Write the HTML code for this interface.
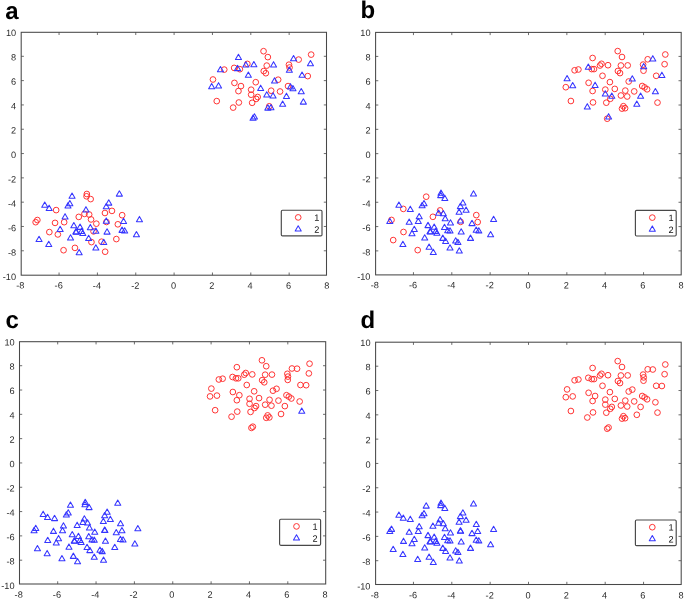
<!DOCTYPE html><html><head><meta charset="utf-8"><title>fig</title><style>html,body{margin:0;padding:0;background:#fff}svg{display:block;will-change:transform}text{font-family:"Liberation Sans",sans-serif;text-rendering:geometricPrecision}.m{fill:none;stroke-linejoin:round}.m circle{stroke:#ff2a2a;stroke-width:.95}.m path{stroke:#3636ff;stroke-width:1.05}</style></head><body>
<svg width="685" height="600" viewBox="0 0 685 600">
<rect width="685" height="600" fill="#fff"/>
<g id="pa">
<text x="5.2" y="18.5" font-size="24" font-weight="bold" fill="#000">a</text>
<rect x="21.2" y="32.3" width="305.30" height="242.90" fill="none" stroke="#484848" stroke-width="1.05"/>
<path d="M59.05 275.2v-2.7M59.05 32.3v2.7M97.40 275.2v-2.7M97.40 32.3v2.7M135.75 275.2v-2.7M135.75 32.3v2.7M174.10 275.2v-2.7M174.10 32.3v2.7M212.45 275.2v-2.7M212.45 32.3v2.7M250.80 275.2v-2.7M250.80 32.3v2.7M289.15 275.2v-2.7M289.15 32.3v2.7M21.2 56.31h2.7M326.5 56.31h-2.7M21.2 80.62h2.7M326.5 80.62h-2.7M21.2 104.93h2.7M326.5 104.93h-2.7M21.2 129.24h2.7M326.5 129.24h-2.7M21.2 153.55h2.7M326.5 153.55h-2.7M21.2 177.86h2.7M326.5 177.86h-2.7M21.2 202.17h2.7M326.5 202.17h-2.7M21.2 226.48h2.7M326.5 226.48h-2.7M21.2 250.79h2.7M326.5 250.79h-2.7" stroke="#484848" stroke-width="0.8" fill="none"/>
<g font-size="9.2" fill="#2b2b2b" transform="rotate(0.03 21.2 32.3)">
<text x="20.50" y="288.60" text-anchor="middle">-8</text>
<text x="58.80" y="288.60" text-anchor="middle">-6</text>
<text x="97.10" y="288.60" text-anchor="middle">-4</text>
<text x="135.40" y="288.60" text-anchor="middle">-2</text>
<text x="173.70" y="288.60" text-anchor="middle">0</text>
<text x="212.00" y="288.60" text-anchor="middle">2</text>
<text x="250.30" y="288.60" text-anchor="middle">4</text>
<text x="288.60" y="288.60" text-anchor="middle">6</text>
<text x="326.90" y="288.60" text-anchor="middle">8</text>
<text x="16.20" y="36.00" text-anchor="end">10</text>
<text x="16.20" y="60.41" text-anchor="end">8</text>
<text x="16.20" y="84.82" text-anchor="end">6</text>
<text x="16.20" y="109.23" text-anchor="end">4</text>
<text x="16.20" y="133.64" text-anchor="end">2</text>
<text x="16.20" y="158.05" text-anchor="end">0</text>
<text x="16.20" y="182.46" text-anchor="end">-2</text>
<text x="16.20" y="206.87" text-anchor="end">-4</text>
<text x="16.20" y="231.28" text-anchor="end">-6</text>
<text x="16.20" y="255.69" text-anchor="end">-8</text>
<text x="16.20" y="280.10" text-anchor="end">-10</text>
</g>
<g class="m">
<circle cx="263.55" cy="51.20" r="2.85"/>
<circle cx="267.85" cy="57.10" r="2.85"/>
<circle cx="311.15" cy="54.60" r="2.85"/>
<circle cx="298.65" cy="59.60" r="2.85"/>
<circle cx="247.35" cy="63.90" r="2.85"/>
<circle cx="266.75" cy="65.60" r="2.85"/>
<circle cx="288.95" cy="64.70" r="2.85"/>
<circle cx="289.55" cy="67.50" r="2.85"/>
<circle cx="234.15" cy="67.90" r="2.85"/>
<circle cx="239.85" cy="69.20" r="2.85"/>
<circle cx="224.25" cy="69.60" r="2.85"/>
<circle cx="263.75" cy="71.10" r="2.85"/>
<circle cx="265.85" cy="73.20" r="2.85"/>
<circle cx="307.75" cy="76.10" r="2.85"/>
<circle cx="212.95" cy="79.50" r="2.85"/>
<circle cx="278.15" cy="79.70" r="2.85"/>
<circle cx="255.75" cy="82.20" r="2.85"/>
<circle cx="234.45" cy="82.90" r="2.85"/>
<circle cx="240.95" cy="86.10" r="2.85"/>
<circle cx="288.05" cy="86.10" r="2.85"/>
<circle cx="251.15" cy="89.70" r="2.85"/>
<circle cx="271.15" cy="90.70" r="2.85"/>
<circle cx="280.05" cy="91.50" r="2.85"/>
<circle cx="238.45" cy="91.10" r="2.85"/>
<circle cx="251.15" cy="94.70" r="2.85"/>
<circle cx="257.65" cy="97.00" r="2.85"/>
<circle cx="256.15" cy="98.90" r="2.85"/>
<circle cx="216.75" cy="101.10" r="2.85"/>
<circle cx="238.85" cy="102.50" r="2.85"/>
<circle cx="252.15" cy="102.80" r="2.85"/>
<circle cx="233.15" cy="107.60" r="2.85"/>
<circle cx="269.25" cy="106.30" r="2.85"/>
<circle cx="86.85" cy="194.00" r="2.85"/>
<circle cx="86.55" cy="196.30" r="2.85"/>
<circle cx="90.65" cy="199.10" r="2.85"/>
<circle cx="56.15" cy="210.10" r="2.85"/>
<circle cx="111.95" cy="210.90" r="2.85"/>
<circle cx="104.95" cy="213.00" r="2.85"/>
<circle cx="84.45" cy="213.90" r="2.85"/>
<circle cx="89.15" cy="214.50" r="2.85"/>
<circle cx="122.15" cy="215.20" r="2.85"/>
<circle cx="78.75" cy="216.91" r="2.85"/>
<circle cx="37.35" cy="220.05" r="2.85"/>
<circle cx="35.65" cy="222.18" r="2.85"/>
<circle cx="55.05" cy="222.89" r="2.85"/>
<circle cx="64.15" cy="222.18" r="2.85"/>
<circle cx="91.05" cy="219.44" r="2.85"/>
<circle cx="96.35" cy="223.69" r="2.85"/>
<circle cx="106.45" cy="221.97" r="2.85"/>
<circle cx="117.85" cy="224.30" r="2.85"/>
<circle cx="49.35" cy="232.09" r="2.85"/>
<circle cx="57.85" cy="234.42" r="2.85"/>
<circle cx="93.55" cy="231.39" r="2.85"/>
<circle cx="91.45" cy="242.11" r="2.85"/>
<circle cx="101.55" cy="241.71" r="2.85"/>
<circle cx="116.35" cy="239.08" r="2.85"/>
<circle cx="74.95" cy="247.88" r="2.85"/>
<circle cx="63.55" cy="250.21" r="2.85"/>
<circle cx="105.15" cy="251.73" r="2.85"/>
<path d="M238.45 54.25L235.42 59.50L241.48 59.50Z"/>
<path d="M293.55 55.55L290.52 60.80L296.58 60.80Z"/>
<path d="M310.45 60.45L307.42 65.70L313.48 65.70Z"/>
<path d="M245.85 61.75L242.82 67.00L248.88 67.00Z"/>
<path d="M253.85 61.45L250.82 66.70L256.88 66.70Z"/>
<path d="M273.55 61.65L270.52 66.90L276.58 66.90Z"/>
<path d="M289.35 66.95L286.32 72.20L292.38 72.20Z"/>
<path d="M237.55 65.35L234.52 70.60L240.58 70.60Z"/>
<path d="M220.45 66.55L217.42 71.80L223.48 71.80Z"/>
<path d="M248.35 72.05L245.32 77.30L251.38 77.30Z"/>
<path d="M302.05 72.05L299.02 77.30L305.08 77.30Z"/>
<path d="M274.55 77.75L271.52 83.00L277.58 83.00Z"/>
<path d="M211.65 83.45L208.62 88.70L214.68 88.70Z"/>
<path d="M218.55 82.65L215.52 87.90L221.58 87.90Z"/>
<path d="M290.45 83.65L287.42 88.90L293.48 88.90Z"/>
<path d="M292.95 85.55L289.92 90.80L295.98 90.80Z"/>
<path d="M260.65 85.15L257.62 90.40L263.68 90.40Z"/>
<path d="M301.25 88.55L298.22 93.80L304.28 93.80Z"/>
<path d="M266.75 91.75L263.72 97.00L269.78 97.00Z"/>
<path d="M273.05 92.75L270.02 98.00L276.08 98.00Z"/>
<path d="M286.45 93.15L283.42 98.40L289.48 98.40Z"/>
<path d="M303.35 98.85L300.32 104.10L306.38 104.10Z"/>
<path d="M282.65 101.05L279.62 106.30L285.68 106.30Z"/>
<path d="M267.85 104.85L264.82 110.10L270.88 110.10Z"/>
<path d="M270.95 104.45L267.92 109.70L273.98 109.70Z"/>
<path d="M254.45 113.75L251.42 119.00L257.48 119.00Z"/>
<path d="M253.05 114.95L250.02 120.20L256.08 120.20Z"/>
<path d="M72.05 192.95L69.02 198.20L75.08 198.20Z"/>
<path d="M119.35 190.85L116.32 196.10L122.38 196.10Z"/>
<path d="M44.75 202.05L41.72 207.30L47.78 207.30Z"/>
<path d="M49.15 205.15L46.12 210.40L52.18 210.40Z"/>
<path d="M69.85 200.55L66.82 205.80L72.88 205.80Z"/>
<path d="M67.95 202.65L64.92 207.90L70.98 207.90Z"/>
<path d="M108.75 199.85L105.72 205.10L111.78 205.10Z"/>
<path d="M106.25 203.45L103.22 208.70L109.28 208.70Z"/>
<path d="M85.95 206.65L82.92 211.90L88.98 211.90Z"/>
<path d="M65.05 213.67L62.02 218.92L68.08 218.92Z"/>
<path d="M106.25 217.92L103.22 223.17L109.28 223.17Z"/>
<path d="M123.55 218.33L120.52 223.58L126.58 223.58Z"/>
<path d="M139.45 216.40L136.42 221.65L142.48 221.65Z"/>
<path d="M73.85 222.48L70.82 227.73L76.88 227.73Z"/>
<path d="M80.05 224.10L77.02 229.35L83.08 229.35Z"/>
<path d="M90.35 224.40L87.32 229.65L93.38 229.65Z"/>
<path d="M60.15 226.32L57.12 231.57L63.18 231.57Z"/>
<path d="M75.85 228.65L72.82 233.90L78.88 233.90Z"/>
<path d="M81.55 228.24L78.52 233.49L84.58 233.49Z"/>
<path d="M82.75 230.17L79.72 235.42L85.78 235.42Z"/>
<path d="M95.85 227.94L92.82 233.19L98.88 233.19Z"/>
<path d="M107.05 228.85L104.02 234.10L110.08 234.10Z"/>
<path d="M122.05 227.13L119.02 232.38L125.08 232.38Z"/>
<path d="M124.65 227.74L121.62 232.99L127.68 232.99Z"/>
<path d="M136.45 231.58L133.42 236.83L139.48 236.83Z"/>
<path d="M39.05 236.34L36.02 241.59L42.08 241.59Z"/>
<path d="M70.55 234.82L67.52 240.07L73.58 240.07Z"/>
<path d="M88.65 235.23L85.62 240.48L91.68 240.48Z"/>
<path d="M103.75 239.28L100.72 244.53L106.78 244.53Z"/>
<path d="M48.75 241.30L45.72 246.55L51.78 246.55Z"/>
<path d="M95.85 244.84L92.82 250.09L98.88 250.09Z"/>
<path d="M79.15 249.40L76.12 254.65L82.18 254.65Z"/>
<path d="M76.25 228.85L73.22 234.10L79.28 234.10Z"/>
</g>
<rect x="281.3" y="210.2" width="40.70" height="25.70" rx="1.2" fill="#fff" stroke="#484848" stroke-width="1.15"/>
<g class="m"><circle cx="298.20" cy="217.40" r="2.85"/><path d="M298.20 225.70L295.17 230.95L301.23 230.95Z"/></g>
<g font-size="9.2" fill="#111" transform="rotate(0.03 281.3 210.2)"><text x="314.30" y="220.80">1</text><text x="314.30" y="232.80">2</text></g>
</g>
<g id="pb">
<text x="360.6" y="18.1" font-size="24" font-weight="bold" fill="#000">b</text>
<rect x="375.6" y="32.4" width="305.60" height="242.50" fill="none" stroke="#484848" stroke-width="1.05"/>
<path d="M413.45 274.9v-2.7M413.45 32.4v2.7M451.80 274.9v-2.7M451.80 32.4v2.7M490.15 274.9v-2.7M490.15 32.4v2.7M528.50 274.9v-2.7M528.50 32.4v2.7M566.85 274.9v-2.7M566.85 32.4v2.7M605.20 274.9v-2.7M605.20 32.4v2.7M643.55 274.9v-2.7M643.55 32.4v2.7M375.6 56.41h2.7M681.2 56.41h-2.7M375.6 80.72h2.7M681.2 80.72h-2.7M375.6 105.03h2.7M681.2 105.03h-2.7M375.6 129.34h2.7M681.2 129.34h-2.7M375.6 153.65h2.7M681.2 153.65h-2.7M375.6 177.96h2.7M681.2 177.96h-2.7M375.6 202.27h2.7M681.2 202.27h-2.7M375.6 226.58h2.7M681.2 226.58h-2.7M375.6 250.89h2.7M681.2 250.89h-2.7" stroke="#484848" stroke-width="0.8" fill="none"/>
<g font-size="9.2" fill="#2b2b2b" transform="rotate(0.03 375.6 32.4)">
<text x="374.90" y="288.30" text-anchor="middle">-8</text>
<text x="413.20" y="288.30" text-anchor="middle">-6</text>
<text x="451.50" y="288.30" text-anchor="middle">-4</text>
<text x="489.80" y="288.30" text-anchor="middle">-2</text>
<text x="528.10" y="288.30" text-anchor="middle">0</text>
<text x="566.40" y="288.30" text-anchor="middle">2</text>
<text x="604.70" y="288.30" text-anchor="middle">4</text>
<text x="643.00" y="288.30" text-anchor="middle">6</text>
<text x="681.30" y="288.30" text-anchor="middle">8</text>
<text x="370.60" y="36.10" text-anchor="end">10</text>
<text x="370.60" y="60.47" text-anchor="end">8</text>
<text x="370.60" y="84.84" text-anchor="end">6</text>
<text x="370.60" y="109.21" text-anchor="end">4</text>
<text x="370.60" y="133.58" text-anchor="end">2</text>
<text x="370.60" y="157.95" text-anchor="end">0</text>
<text x="370.60" y="182.32" text-anchor="end">-2</text>
<text x="370.60" y="206.69" text-anchor="end">-4</text>
<text x="370.60" y="231.06" text-anchor="end">-6</text>
<text x="370.60" y="255.43" text-anchor="end">-8</text>
<text x="370.60" y="279.80" text-anchor="end">-10</text>
</g>
<g class="m">
<circle cx="617.70" cy="51.10" r="2.85"/>
<circle cx="622.00" cy="57.00" r="2.85"/>
<circle cx="665.30" cy="54.50" r="2.85"/>
<circle cx="592.60" cy="58.00" r="2.85"/>
<circle cx="647.70" cy="59.30" r="2.85"/>
<circle cx="664.60" cy="64.20" r="2.85"/>
<circle cx="601.50" cy="63.80" r="2.85"/>
<circle cx="600.00" cy="65.50" r="2.85"/>
<circle cx="608.00" cy="65.20" r="2.85"/>
<circle cx="620.90" cy="65.50" r="2.85"/>
<circle cx="627.70" cy="65.40" r="2.85"/>
<circle cx="643.10" cy="64.60" r="2.85"/>
<circle cx="643.50" cy="70.70" r="2.85"/>
<circle cx="591.70" cy="69.10" r="2.85"/>
<circle cx="594.00" cy="69.10" r="2.85"/>
<circle cx="574.60" cy="70.30" r="2.85"/>
<circle cx="578.40" cy="69.50" r="2.85"/>
<circle cx="617.90" cy="71.00" r="2.85"/>
<circle cx="620.00" cy="73.10" r="2.85"/>
<circle cx="602.50" cy="75.80" r="2.85"/>
<circle cx="656.20" cy="75.80" r="2.85"/>
<circle cx="628.70" cy="81.50" r="2.85"/>
<circle cx="609.90" cy="82.10" r="2.85"/>
<circle cx="588.60" cy="82.80" r="2.85"/>
<circle cx="565.80" cy="87.20" r="2.85"/>
<circle cx="642.20" cy="86.00" r="2.85"/>
<circle cx="644.60" cy="87.40" r="2.85"/>
<circle cx="647.10" cy="89.30" r="2.85"/>
<circle cx="614.80" cy="88.90" r="2.85"/>
<circle cx="605.30" cy="89.60" r="2.85"/>
<circle cx="625.30" cy="90.60" r="2.85"/>
<circle cx="634.20" cy="91.40" r="2.85"/>
<circle cx="592.60" cy="91.00" r="2.85"/>
<circle cx="620.90" cy="95.50" r="2.85"/>
<circle cx="627.20" cy="96.50" r="2.85"/>
<circle cx="610.30" cy="98.80" r="2.85"/>
<circle cx="570.90" cy="101.00" r="2.85"/>
<circle cx="593.00" cy="102.40" r="2.85"/>
<circle cx="606.30" cy="102.70" r="2.85"/>
<circle cx="657.50" cy="102.60" r="2.85"/>
<circle cx="623.40" cy="106.20" r="2.85"/>
<circle cx="622.00" cy="108.60" r="2.85"/>
<circle cx="625.10" cy="108.20" r="2.85"/>
<circle cx="607.20" cy="118.70" r="2.85"/>
<circle cx="426.20" cy="196.70" r="2.85"/>
<circle cx="403.30" cy="208.90" r="2.85"/>
<circle cx="440.10" cy="210.40" r="2.85"/>
<circle cx="476.30" cy="215.10" r="2.85"/>
<circle cx="432.90" cy="216.81" r="2.85"/>
<circle cx="391.50" cy="219.95" r="2.85"/>
<circle cx="460.60" cy="221.87" r="2.85"/>
<circle cx="477.70" cy="222.08" r="2.85"/>
<circle cx="403.50" cy="231.99" r="2.85"/>
<circle cx="393.20" cy="240.09" r="2.85"/>
<circle cx="417.70" cy="250.11" r="2.85"/>
<path d="M652.80 55.65L649.77 60.90L655.83 60.90Z"/>
<path d="M643.70 63.55L640.67 68.80L646.73 68.80Z"/>
<path d="M588.30 63.95L585.27 69.20L591.33 69.20Z"/>
<path d="M661.90 72.15L658.87 77.40L664.93 77.40Z"/>
<path d="M567.10 75.55L564.07 80.80L570.13 80.80Z"/>
<path d="M632.30 75.75L629.27 81.00L635.33 81.00Z"/>
<path d="M595.10 82.15L592.07 87.40L598.13 87.40Z"/>
<path d="M572.70 82.55L569.67 87.80L575.73 87.80Z"/>
<path d="M655.40 88.45L652.37 93.70L658.43 93.70Z"/>
<path d="M605.30 90.75L602.27 96.00L608.33 96.00Z"/>
<path d="M640.60 93.05L637.57 98.30L643.63 98.30Z"/>
<path d="M611.80 93.05L608.77 98.30L614.83 98.30Z"/>
<path d="M636.80 100.95L633.77 106.20L639.83 106.20Z"/>
<path d="M587.30 103.65L584.27 108.90L590.33 108.90Z"/>
<path d="M608.60 113.65L605.57 118.90L611.63 118.90Z"/>
<path d="M441.00 190.05L437.97 195.30L444.03 195.30Z"/>
<path d="M440.70 192.35L437.67 197.60L443.73 197.60Z"/>
<path d="M444.80 195.15L441.77 200.40L447.83 200.40Z"/>
<path d="M473.50 190.75L470.47 196.00L476.53 196.00Z"/>
<path d="M398.90 201.95L395.87 207.20L401.93 207.20Z"/>
<path d="M410.30 206.15L407.27 211.40L413.33 211.40Z"/>
<path d="M424.00 200.45L420.97 205.70L427.03 205.70Z"/>
<path d="M422.10 202.55L419.07 207.80L425.13 207.80Z"/>
<path d="M462.90 199.75L459.87 205.00L465.93 205.00Z"/>
<path d="M460.40 203.35L457.37 208.60L463.43 208.60Z"/>
<path d="M466.10 206.95L463.07 212.20L469.13 212.20Z"/>
<path d="M459.10 209.05L456.07 214.30L462.13 214.30Z"/>
<path d="M438.60 209.95L435.57 215.20L441.63 215.20Z"/>
<path d="M443.30 210.55L440.27 215.80L446.33 215.80Z"/>
<path d="M419.20 213.57L416.17 218.82L422.23 218.82Z"/>
<path d="M389.80 218.23L386.77 223.48L392.83 223.48Z"/>
<path d="M409.20 218.94L406.17 224.19L412.23 224.19Z"/>
<path d="M418.30 218.23L415.27 223.48L421.33 223.48Z"/>
<path d="M445.20 215.49L442.17 220.74L448.23 220.74Z"/>
<path d="M450.50 219.74L447.47 224.99L453.53 224.99Z"/>
<path d="M460.40 217.82L457.37 223.07L463.43 223.07Z"/>
<path d="M472.00 220.35L468.97 225.60L475.03 225.60Z"/>
<path d="M493.60 216.30L490.57 221.55L496.63 221.55Z"/>
<path d="M428.00 222.38L424.97 227.63L431.03 227.63Z"/>
<path d="M434.20 224.00L431.17 229.25L437.23 229.25Z"/>
<path d="M444.50 224.30L441.47 229.55L447.53 229.55Z"/>
<path d="M414.30 226.22L411.27 231.47L417.33 231.47Z"/>
<path d="M412.00 230.47L408.97 235.72L415.03 235.72Z"/>
<path d="M430.00 228.55L426.97 233.80L433.03 233.80Z"/>
<path d="M435.70 228.14L432.67 233.39L438.73 233.39Z"/>
<path d="M436.90 230.07L433.87 235.32L439.93 235.32Z"/>
<path d="M447.70 227.44L444.67 232.69L450.73 232.69Z"/>
<path d="M450.00 227.84L446.97 233.09L453.03 233.09Z"/>
<path d="M461.20 228.75L458.17 234.00L464.23 234.00Z"/>
<path d="M476.20 227.03L473.17 232.28L479.23 232.28Z"/>
<path d="M478.80 227.64L475.77 232.89L481.83 232.89Z"/>
<path d="M490.60 231.48L487.57 236.73L493.63 236.73Z"/>
<path d="M424.70 234.72L421.67 239.97L427.73 239.97Z"/>
<path d="M442.80 235.13L439.77 240.38L445.83 240.38Z"/>
<path d="M445.60 238.16L442.57 243.41L448.63 243.41Z"/>
<path d="M455.70 237.76L452.67 243.01L458.73 243.01Z"/>
<path d="M457.90 239.18L454.87 244.43L460.93 244.43Z"/>
<path d="M470.50 235.13L467.47 240.38L473.53 240.38Z"/>
<path d="M402.90 241.20L399.87 246.45L405.93 246.45Z"/>
<path d="M429.10 243.93L426.07 249.18L432.13 249.18Z"/>
<path d="M450.00 244.74L446.97 249.99L453.03 249.99Z"/>
<path d="M433.30 249.30L430.27 254.55L436.33 254.55Z"/>
<path d="M459.30 247.78L456.27 253.03L462.33 253.03Z"/>
<path d="M430.40 228.75L427.37 234.00L433.43 234.00Z"/>
</g>
<rect x="635.4" y="210.4" width="40.80" height="25.60" rx="1.2" fill="#fff" stroke="#484848" stroke-width="1.15"/>
<g class="m"><circle cx="652.30" cy="217.60" r="2.85"/><path d="M652.30 225.90L649.27 231.15L655.33 231.15Z"/></g>
<g font-size="9.2" fill="#111" transform="rotate(0.03 635.4 210.4)"><text x="668.40" y="221.00">1</text><text x="668.40" y="233.00">2</text></g>
</g>
<g id="pc">
<text x="5.4" y="328.3" font-size="24" font-weight="bold" fill="#000">c</text>
<rect x="19.5" y="341.7" width="306.20" height="242.30" fill="none" stroke="#484848" stroke-width="1.05"/>
<path d="M57.70 584.0v-2.7M57.70 341.7v2.7M96.05 584.0v-2.7M96.05 341.7v2.7M134.40 584.0v-2.7M134.40 341.7v2.7M172.75 584.0v-2.7M172.75 341.7v2.7M211.10 584.0v-2.7M211.10 341.7v2.7M249.45 584.0v-2.7M249.45 341.7v2.7M287.80 584.0v-2.7M287.80 341.7v2.7M19.5 365.71h2.7M325.7 365.71h-2.7M19.5 390.02h2.7M325.7 390.02h-2.7M19.5 414.33h2.7M325.7 414.33h-2.7M19.5 438.64h2.7M325.7 438.64h-2.7M19.5 462.95h2.7M325.7 462.95h-2.7M19.5 487.26h2.7M325.7 487.26h-2.7M19.5 511.57h2.7M325.7 511.57h-2.7M19.5 535.88h2.7M325.7 535.88h-2.7M19.5 560.19h2.7M325.7 560.19h-2.7" stroke="#484848" stroke-width="0.8" fill="none"/>
<g font-size="9.2" fill="#2b2b2b" transform="rotate(0.03 19.5 341.7)">
<text x="18.80" y="597.70" text-anchor="middle">-8</text>
<text x="57.10" y="597.70" text-anchor="middle">-6</text>
<text x="95.40" y="597.70" text-anchor="middle">-4</text>
<text x="133.70" y="597.70" text-anchor="middle">-2</text>
<text x="172.00" y="597.70" text-anchor="middle">0</text>
<text x="210.30" y="597.70" text-anchor="middle">2</text>
<text x="248.60" y="597.70" text-anchor="middle">4</text>
<text x="286.90" y="597.70" text-anchor="middle">6</text>
<text x="325.20" y="597.70" text-anchor="middle">8</text>
<text x="14.70" y="345.40" text-anchor="end">10</text>
<text x="14.70" y="369.75" text-anchor="end">8</text>
<text x="14.70" y="394.10" text-anchor="end">6</text>
<text x="14.70" y="418.45" text-anchor="end">4</text>
<text x="14.70" y="442.80" text-anchor="end">2</text>
<text x="14.70" y="467.15" text-anchor="end">0</text>
<text x="14.70" y="491.50" text-anchor="end">-2</text>
<text x="14.70" y="515.85" text-anchor="end">-4</text>
<text x="14.70" y="540.20" text-anchor="end">-6</text>
<text x="14.70" y="564.55" text-anchor="end">-8</text>
<text x="14.70" y="588.90" text-anchor="end">-10</text>
</g>
<g class="m">
<circle cx="261.95" cy="360.30" r="2.85"/>
<circle cx="266.25" cy="366.20" r="2.85"/>
<circle cx="309.55" cy="363.70" r="2.85"/>
<circle cx="236.85" cy="367.20" r="2.85"/>
<circle cx="291.95" cy="368.50" r="2.85"/>
<circle cx="297.05" cy="368.70" r="2.85"/>
<circle cx="308.85" cy="373.40" r="2.85"/>
<circle cx="245.75" cy="373.00" r="2.85"/>
<circle cx="244.25" cy="374.70" r="2.85"/>
<circle cx="252.25" cy="374.40" r="2.85"/>
<circle cx="265.15" cy="374.70" r="2.85"/>
<circle cx="271.95" cy="374.60" r="2.85"/>
<circle cx="287.35" cy="373.80" r="2.85"/>
<circle cx="287.95" cy="376.60" r="2.85"/>
<circle cx="287.75" cy="379.90" r="2.85"/>
<circle cx="232.55" cy="377.00" r="2.85"/>
<circle cx="235.95" cy="378.30" r="2.85"/>
<circle cx="238.25" cy="378.30" r="2.85"/>
<circle cx="218.85" cy="379.50" r="2.85"/>
<circle cx="222.65" cy="378.70" r="2.85"/>
<circle cx="262.15" cy="380.20" r="2.85"/>
<circle cx="264.25" cy="382.30" r="2.85"/>
<circle cx="246.75" cy="385.00" r="2.85"/>
<circle cx="300.45" cy="385.00" r="2.85"/>
<circle cx="306.15" cy="385.20" r="2.85"/>
<circle cx="211.35" cy="388.60" r="2.85"/>
<circle cx="276.55" cy="388.80" r="2.85"/>
<circle cx="272.95" cy="390.70" r="2.85"/>
<circle cx="254.15" cy="391.30" r="2.85"/>
<circle cx="232.85" cy="392.00" r="2.85"/>
<circle cx="239.35" cy="395.20" r="2.85"/>
<circle cx="210.05" cy="396.40" r="2.85"/>
<circle cx="216.95" cy="395.60" r="2.85"/>
<circle cx="286.45" cy="395.20" r="2.85"/>
<circle cx="288.85" cy="396.60" r="2.85"/>
<circle cx="291.35" cy="398.50" r="2.85"/>
<circle cx="259.05" cy="398.10" r="2.85"/>
<circle cx="249.55" cy="398.80" r="2.85"/>
<circle cx="269.55" cy="399.80" r="2.85"/>
<circle cx="278.45" cy="400.60" r="2.85"/>
<circle cx="236.85" cy="400.20" r="2.85"/>
<circle cx="299.65" cy="401.50" r="2.85"/>
<circle cx="249.55" cy="403.80" r="2.85"/>
<circle cx="265.15" cy="404.70" r="2.85"/>
<circle cx="271.45" cy="405.70" r="2.85"/>
<circle cx="284.85" cy="406.10" r="2.85"/>
<circle cx="256.05" cy="406.10" r="2.85"/>
<circle cx="254.55" cy="408.00" r="2.85"/>
<circle cx="215.15" cy="410.20" r="2.85"/>
<circle cx="237.25" cy="411.60" r="2.85"/>
<circle cx="250.55" cy="411.90" r="2.85"/>
<circle cx="281.05" cy="414.00" r="2.85"/>
<circle cx="231.55" cy="416.70" r="2.85"/>
<circle cx="267.65" cy="415.40" r="2.85"/>
<circle cx="266.25" cy="417.80" r="2.85"/>
<circle cx="269.35" cy="417.40" r="2.85"/>
<circle cx="252.85" cy="426.70" r="2.85"/>
<circle cx="251.45" cy="427.90" r="2.85"/>
<path d="M301.75 407.95L298.72 413.20L304.78 413.20Z"/>
<path d="M70.45 502.05L67.42 507.30L73.48 507.30Z"/>
<path d="M85.25 499.25L82.22 504.50L88.28 504.50Z"/>
<path d="M84.95 501.55L81.92 506.80L87.98 506.80Z"/>
<path d="M89.05 504.35L86.02 509.60L92.08 509.60Z"/>
<path d="M117.75 499.95L114.72 505.20L120.78 505.20Z"/>
<path d="M43.15 511.15L40.12 516.40L46.18 516.40Z"/>
<path d="M47.55 514.25L44.52 519.50L50.58 519.50Z"/>
<path d="M54.55 515.35L51.52 520.60L57.58 520.60Z"/>
<path d="M68.25 509.65L65.22 514.90L71.28 514.90Z"/>
<path d="M66.35 511.75L63.32 517.00L69.38 517.00Z"/>
<path d="M107.15 508.95L104.12 514.20L110.18 514.20Z"/>
<path d="M104.65 512.55L101.62 517.80L107.68 517.80Z"/>
<path d="M110.35 516.15L107.32 521.40L113.38 521.40Z"/>
<path d="M103.35 518.25L100.32 523.50L106.38 523.50Z"/>
<path d="M84.35 515.75L81.32 521.00L87.38 521.00Z"/>
<path d="M82.85 519.15L79.82 524.40L85.88 524.40Z"/>
<path d="M87.55 519.75L84.52 525.00L90.58 525.00Z"/>
<path d="M120.55 520.45L117.52 525.70L123.58 525.70Z"/>
<path d="M77.15 522.16L74.12 527.41L80.18 527.41Z"/>
<path d="M63.45 522.77L60.42 528.02L66.48 528.02Z"/>
<path d="M35.75 525.30L32.72 530.55L38.78 530.55Z"/>
<path d="M34.05 527.43L31.02 532.68L37.08 532.68Z"/>
<path d="M53.45 528.14L50.42 533.39L56.48 533.39Z"/>
<path d="M62.55 527.43L59.52 532.68L65.58 532.68Z"/>
<path d="M89.45 524.69L86.42 529.94L92.48 529.94Z"/>
<path d="M94.75 528.94L91.72 534.19L97.78 534.19Z"/>
<path d="M104.65 527.02L101.62 532.27L107.68 532.27Z"/>
<path d="M104.85 527.22L101.82 532.47L107.88 532.47Z"/>
<path d="M121.95 527.43L118.92 532.68L124.98 532.68Z"/>
<path d="M116.25 529.55L113.22 534.80L119.28 534.80Z"/>
<path d="M137.85 525.50L134.82 530.75L140.88 530.75Z"/>
<path d="M72.25 531.58L69.22 536.83L75.28 536.83Z"/>
<path d="M78.45 533.20L75.42 538.45L81.48 538.45Z"/>
<path d="M88.75 533.50L85.72 538.75L91.78 538.75Z"/>
<path d="M58.55 535.42L55.52 540.67L61.58 540.67Z"/>
<path d="M47.75 537.34L44.72 542.59L50.78 542.59Z"/>
<path d="M56.25 539.67L53.22 544.92L59.28 544.92Z"/>
<path d="M74.25 537.75L71.22 543.00L77.28 543.00Z"/>
<path d="M79.95 537.34L76.92 542.59L82.98 542.59Z"/>
<path d="M81.15 539.27L78.12 544.52L84.18 544.52Z"/>
<path d="M91.95 536.64L88.92 541.89L94.98 541.89Z"/>
<path d="M94.25 537.04L91.22 542.29L97.28 542.29Z"/>
<path d="M105.45 537.95L102.42 543.20L108.48 543.20Z"/>
<path d="M120.45 536.23L117.42 541.48L123.48 541.48Z"/>
<path d="M123.05 536.84L120.02 542.09L126.08 542.09Z"/>
<path d="M134.85 540.68L131.82 545.93L137.88 545.93Z"/>
<path d="M37.45 545.44L34.42 550.69L40.48 550.69Z"/>
<path d="M68.95 543.92L65.92 549.17L71.98 549.17Z"/>
<path d="M87.05 544.33L84.02 549.58L90.08 549.58Z"/>
<path d="M89.85 547.36L86.82 552.61L92.88 552.61Z"/>
<path d="M99.95 546.96L96.92 552.21L102.98 552.21Z"/>
<path d="M102.15 548.38L99.12 553.63L105.18 553.63Z"/>
<path d="M114.75 544.33L111.72 549.58L117.78 549.58Z"/>
<path d="M47.15 550.40L44.12 555.65L50.18 555.65Z"/>
<path d="M73.35 553.13L70.32 558.38L76.38 558.38Z"/>
<path d="M61.95 555.46L58.92 560.71L64.98 560.71Z"/>
<path d="M94.25 553.94L91.22 559.19L97.28 559.19Z"/>
<path d="M77.55 558.50L74.52 563.75L80.58 563.75Z"/>
<path d="M103.55 556.98L100.52 562.23L106.58 562.23Z"/>
<path d="M74.65 537.95L71.62 543.20L77.68 543.20Z"/>
</g>
<rect x="279.6" y="519.2" width="41.00" height="26.10" rx="1.2" fill="#fff" stroke="#484848" stroke-width="1.15"/>
<g class="m"><circle cx="296.50" cy="526.40" r="2.85"/><path d="M296.50 534.70L293.47 539.95L299.53 539.95Z"/></g>
<g font-size="9.2" fill="#111" transform="rotate(0.03 279.6 519.2)"><text x="312.60" y="529.80">1</text><text x="312.60" y="541.80">2</text></g>
</g>
<g id="pd">
<text x="360.6" y="328.0" font-size="24" font-weight="bold" fill="#000">d</text>
<rect x="375.6" y="342.2" width="305.60" height="242.30" fill="none" stroke="#484848" stroke-width="1.05"/>
<path d="M413.45 584.5v-2.7M413.45 342.2v2.7M451.80 584.5v-2.7M451.80 342.2v2.7M490.15 584.5v-2.7M490.15 342.2v2.7M528.50 584.5v-2.7M528.50 342.2v2.7M566.85 584.5v-2.7M566.85 342.2v2.7M605.20 584.5v-2.7M605.20 342.2v2.7M643.55 584.5v-2.7M643.55 342.2v2.7M375.6 366.21h2.7M681.2 366.21h-2.7M375.6 390.52h2.7M681.2 390.52h-2.7M375.6 414.83h2.7M681.2 414.83h-2.7M375.6 439.14h2.7M681.2 439.14h-2.7M375.6 463.45h2.7M681.2 463.45h-2.7M375.6 487.76h2.7M681.2 487.76h-2.7M375.6 512.07h2.7M681.2 512.07h-2.7M375.6 536.38h2.7M681.2 536.38h-2.7M375.6 560.69h2.7M681.2 560.69h-2.7" stroke="#484848" stroke-width="0.8" fill="none"/>
<g font-size="9.2" fill="#2b2b2b" transform="rotate(0.03 375.6 342.2)">
<text x="374.90" y="598.35" text-anchor="middle">-8</text>
<text x="413.20" y="598.35" text-anchor="middle">-6</text>
<text x="451.50" y="598.35" text-anchor="middle">-4</text>
<text x="489.80" y="598.35" text-anchor="middle">-2</text>
<text x="528.10" y="598.35" text-anchor="middle">0</text>
<text x="566.40" y="598.35" text-anchor="middle">2</text>
<text x="604.70" y="598.35" text-anchor="middle">4</text>
<text x="643.00" y="598.35" text-anchor="middle">6</text>
<text x="681.30" y="598.35" text-anchor="middle">8</text>
<text x="370.60" y="345.90" text-anchor="end">10</text>
<text x="370.60" y="370.25" text-anchor="end">8</text>
<text x="370.60" y="394.60" text-anchor="end">6</text>
<text x="370.60" y="418.95" text-anchor="end">4</text>
<text x="370.60" y="443.30" text-anchor="end">2</text>
<text x="370.60" y="467.65" text-anchor="end">0</text>
<text x="370.60" y="492.00" text-anchor="end">-2</text>
<text x="370.60" y="516.35" text-anchor="end">-4</text>
<text x="370.60" y="540.70" text-anchor="end">-6</text>
<text x="370.60" y="565.05" text-anchor="end">-8</text>
<text x="370.60" y="589.40" text-anchor="end">-10</text>
</g>
<g class="m">
<circle cx="617.70" cy="361.10" r="2.85"/>
<circle cx="622.00" cy="367.00" r="2.85"/>
<circle cx="665.30" cy="364.50" r="2.85"/>
<circle cx="592.60" cy="368.00" r="2.85"/>
<circle cx="647.70" cy="369.30" r="2.85"/>
<circle cx="652.80" cy="369.50" r="2.85"/>
<circle cx="664.60" cy="374.20" r="2.85"/>
<circle cx="601.50" cy="373.80" r="2.85"/>
<circle cx="600.00" cy="375.50" r="2.85"/>
<circle cx="608.00" cy="375.20" r="2.85"/>
<circle cx="620.90" cy="375.50" r="2.85"/>
<circle cx="627.70" cy="375.40" r="2.85"/>
<circle cx="643.10" cy="374.60" r="2.85"/>
<circle cx="643.70" cy="377.40" r="2.85"/>
<circle cx="643.50" cy="380.70" r="2.85"/>
<circle cx="588.30" cy="377.80" r="2.85"/>
<circle cx="591.70" cy="379.10" r="2.85"/>
<circle cx="594.00" cy="379.10" r="2.85"/>
<circle cx="574.60" cy="380.30" r="2.85"/>
<circle cx="578.40" cy="379.50" r="2.85"/>
<circle cx="617.90" cy="381.00" r="2.85"/>
<circle cx="620.00" cy="383.10" r="2.85"/>
<circle cx="602.50" cy="385.80" r="2.85"/>
<circle cx="656.20" cy="385.80" r="2.85"/>
<circle cx="661.90" cy="386.00" r="2.85"/>
<circle cx="567.10" cy="389.40" r="2.85"/>
<circle cx="632.30" cy="389.60" r="2.85"/>
<circle cx="628.70" cy="391.50" r="2.85"/>
<circle cx="609.90" cy="392.10" r="2.85"/>
<circle cx="588.60" cy="392.80" r="2.85"/>
<circle cx="595.10" cy="396.00" r="2.85"/>
<circle cx="565.80" cy="397.20" r="2.85"/>
<circle cx="572.70" cy="396.40" r="2.85"/>
<circle cx="642.20" cy="396.00" r="2.85"/>
<circle cx="644.60" cy="397.40" r="2.85"/>
<circle cx="647.10" cy="399.30" r="2.85"/>
<circle cx="614.80" cy="398.90" r="2.85"/>
<circle cx="605.30" cy="399.60" r="2.85"/>
<circle cx="625.30" cy="400.60" r="2.85"/>
<circle cx="634.20" cy="401.40" r="2.85"/>
<circle cx="592.60" cy="401.00" r="2.85"/>
<circle cx="655.40" cy="402.30" r="2.85"/>
<circle cx="605.30" cy="404.60" r="2.85"/>
<circle cx="620.90" cy="405.50" r="2.85"/>
<circle cx="627.20" cy="406.50" r="2.85"/>
<circle cx="640.60" cy="406.90" r="2.85"/>
<circle cx="611.80" cy="406.90" r="2.85"/>
<circle cx="610.30" cy="408.80" r="2.85"/>
<circle cx="570.90" cy="411.00" r="2.85"/>
<circle cx="593.00" cy="412.40" r="2.85"/>
<circle cx="606.30" cy="412.70" r="2.85"/>
<circle cx="657.50" cy="412.60" r="2.85"/>
<circle cx="636.80" cy="414.80" r="2.85"/>
<circle cx="587.30" cy="417.50" r="2.85"/>
<circle cx="623.40" cy="416.20" r="2.85"/>
<circle cx="622.00" cy="418.60" r="2.85"/>
<circle cx="625.10" cy="418.20" r="2.85"/>
<circle cx="608.60" cy="427.50" r="2.85"/>
<circle cx="607.20" cy="428.70" r="2.85"/>
<path d="M426.20 502.85L423.17 508.10L429.23 508.10Z"/>
<path d="M441.00 500.05L437.97 505.30L444.03 505.30Z"/>
<path d="M440.70 502.35L437.67 507.60L443.73 507.60Z"/>
<path d="M444.80 505.15L441.77 510.40L447.83 510.40Z"/>
<path d="M473.50 500.75L470.47 506.00L476.53 506.00Z"/>
<path d="M398.90 511.95L395.87 517.20L401.93 517.20Z"/>
<path d="M403.30 515.05L400.27 520.30L406.33 520.30Z"/>
<path d="M410.30 516.15L407.27 521.40L413.33 521.40Z"/>
<path d="M424.00 510.45L420.97 515.70L427.03 515.70Z"/>
<path d="M422.10 512.55L419.07 517.80L425.13 517.80Z"/>
<path d="M462.90 509.75L459.87 515.00L465.93 515.00Z"/>
<path d="M460.40 513.35L457.37 518.60L463.43 518.60Z"/>
<path d="M466.10 516.95L463.07 522.20L469.13 522.20Z"/>
<path d="M459.10 519.05L456.07 524.30L462.13 524.30Z"/>
<path d="M440.10 516.55L437.07 521.80L443.13 521.80Z"/>
<path d="M438.60 519.95L435.57 525.20L441.63 525.20Z"/>
<path d="M443.30 520.55L440.27 525.80L446.33 525.80Z"/>
<path d="M476.30 521.25L473.27 526.50L479.33 526.50Z"/>
<path d="M432.90 522.96L429.87 528.21L435.93 528.21Z"/>
<path d="M419.20 523.57L416.17 528.82L422.23 528.82Z"/>
<path d="M391.50 526.10L388.47 531.35L394.53 531.35Z"/>
<path d="M389.80 528.23L386.77 533.48L392.83 533.48Z"/>
<path d="M409.20 528.94L406.17 534.19L412.23 534.19Z"/>
<path d="M418.30 528.23L415.27 533.48L421.33 533.48Z"/>
<path d="M445.20 525.49L442.17 530.74L448.23 530.74Z"/>
<path d="M450.50 529.74L447.47 534.99L453.53 534.99Z"/>
<path d="M460.40 527.82L457.37 533.07L463.43 533.07Z"/>
<path d="M460.60 528.02L457.57 533.27L463.63 533.27Z"/>
<path d="M477.70 528.23L474.67 533.48L480.73 533.48Z"/>
<path d="M472.00 530.35L468.97 535.60L475.03 535.60Z"/>
<path d="M493.60 526.30L490.57 531.55L496.63 531.55Z"/>
<path d="M428.00 532.38L424.97 537.63L431.03 537.63Z"/>
<path d="M434.20 534.00L431.17 539.25L437.23 539.25Z"/>
<path d="M444.50 534.30L441.47 539.55L447.53 539.55Z"/>
<path d="M414.30 536.22L411.27 541.47L417.33 541.47Z"/>
<path d="M403.50 538.14L400.47 543.39L406.53 543.39Z"/>
<path d="M412.00 540.47L408.97 545.72L415.03 545.72Z"/>
<path d="M430.00 538.55L426.97 543.80L433.03 543.80Z"/>
<path d="M435.70 538.14L432.67 543.39L438.73 543.39Z"/>
<path d="M436.90 540.07L433.87 545.32L439.93 545.32Z"/>
<path d="M447.70 537.44L444.67 542.69L450.73 542.69Z"/>
<path d="M450.00 537.84L446.97 543.09L453.03 543.09Z"/>
<path d="M461.20 538.75L458.17 544.00L464.23 544.00Z"/>
<path d="M476.20 537.03L473.17 542.28L479.23 542.28Z"/>
<path d="M478.80 537.64L475.77 542.89L481.83 542.89Z"/>
<path d="M490.60 541.48L487.57 546.73L493.63 546.73Z"/>
<path d="M393.20 546.24L390.17 551.49L396.23 551.49Z"/>
<path d="M424.70 544.72L421.67 549.97L427.73 549.97Z"/>
<path d="M442.80 545.13L439.77 550.38L445.83 550.38Z"/>
<path d="M445.60 548.16L442.57 553.41L448.63 553.41Z"/>
<path d="M455.70 547.76L452.67 553.01L458.73 553.01Z"/>
<path d="M457.90 549.18L454.87 554.43L460.93 554.43Z"/>
<path d="M470.50 545.13L467.47 550.38L473.53 550.38Z"/>
<path d="M402.90 551.20L399.87 556.45L405.93 556.45Z"/>
<path d="M429.10 553.93L426.07 559.18L432.13 559.18Z"/>
<path d="M417.70 556.26L414.67 561.51L420.73 561.51Z"/>
<path d="M450.00 554.74L446.97 559.99L453.03 559.99Z"/>
<path d="M433.30 559.30L430.27 564.55L436.33 564.55Z"/>
<path d="M459.30 557.78L456.27 563.03L462.33 563.03Z"/>
<path d="M430.40 538.75L427.37 544.00L433.43 544.00Z"/>
</g>
<rect x="635.4" y="520.0" width="40.80" height="25.60" rx="1.2" fill="#fff" stroke="#484848" stroke-width="1.15"/>
<g class="m"><circle cx="652.30" cy="527.20" r="2.85"/><path d="M652.30 535.50L649.27 540.75L655.33 540.75Z"/></g>
<g font-size="9.2" fill="#111" transform="rotate(0.03 635.4 520.0)"><text x="668.40" y="530.60">1</text><text x="668.40" y="542.60">2</text></g>
</g>
</svg></body></html>
